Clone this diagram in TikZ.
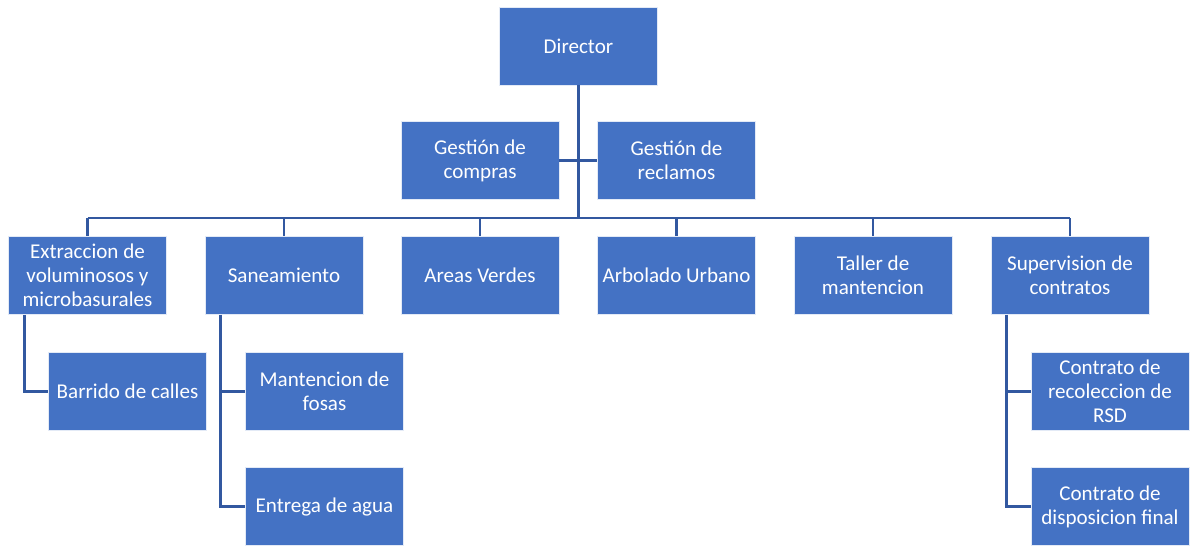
\documentclass[tikz,border=0pt]{standalone}
\usepackage{fontspec}
\setmainfont{Carlito}
\usetikzlibrary{positioning, calc}
\definecolor{boxblue}{RGB}{68,114,196}
\definecolor{linkblue}{RGB}{50,88,160}

\tikzset{
  unit/.style={rectangle, fill=boxblue, draw=white!85!boxblue, line width=0.6pt,
    minimum width=118.5pt, minimum height=58.5pt, inner sep=0pt,
    align=center, text=white, font=\fontsize{15.8}{18}\selectfont},
  link/.style={draw=linkblue, line width=2.2pt}
}

\begin{document}
\begin{tikzpicture}[x=0.75pt, y=-0.75pt]
  \useasboundingbox (0,0) rectangle (1192,550);
  % Top
  \node[unit] (dir) at (578.5,46) {Director};
  \node[unit] (compras) at (480,160.5) {Gestión de\\compras};
  \node[unit] (reclamos) at (676.5,160.5) {Gestión de\\reclamos};
  % Departments
  \node[unit] (ext) at (87.5,275.5) {Extraccion de\\voluminosos y\\microbasurales};
  \node[unit] (san) at (284,275.5) {Saneamiento};
  \node[unit] (areas) at (480,275.5) {Areas Verdes};
  \node[unit] (arb) at (676.5,275.5) {Arbolado Urbano};
  \node[unit] (taller) at (873,275.5) {Taller de\\mantencion};
  \node[unit] (sup) at (1070,275.5) {Supervision de\\contratos};
  % Sub units
  \node[unit] (barrido) at (127.5,391.5) {Barrido de calles};
  \node[unit] (fosas) at (324.5,391.5) {Mantencion de\\fosas};
  \node[unit] (agua) at (324.5,506.5) {Entrega de agua};
  \node[unit] (rsd) at (1110,391.5) {Contrato de\\recoleccion de\\RSD};
  \node[unit] (final) at (1110,506.5) {Contrato de\\disposicion final};
  % Connectors
  \coordinate (bus) at (578.5,218);
  \draw[link] (dir.south) -- (bus);
  \draw[link] (compras.east) -- (reclamos.west);
  \draw[link] (bus -| ext.north) -- (bus -| sup.north);
  \foreach \d in {ext, san, areas, arb, taller, sup}
    \draw[link] (bus -| \d.north) -- (\d.north);
  \draw[link] ([xshift=12pt]ext.south west) |- (barrido.west);
  \draw[link] ([xshift=12pt]san.south west) |- (agua.west);
  \draw[link] ([xshift=12pt]san.south west) |- (fosas.west);
  \draw[link] ([xshift=12pt]sup.south west) |- (final.west);
  \draw[link] ([xshift=12pt]sup.south west) |- (rsd.west);
\end{tikzpicture}
\end{document}
